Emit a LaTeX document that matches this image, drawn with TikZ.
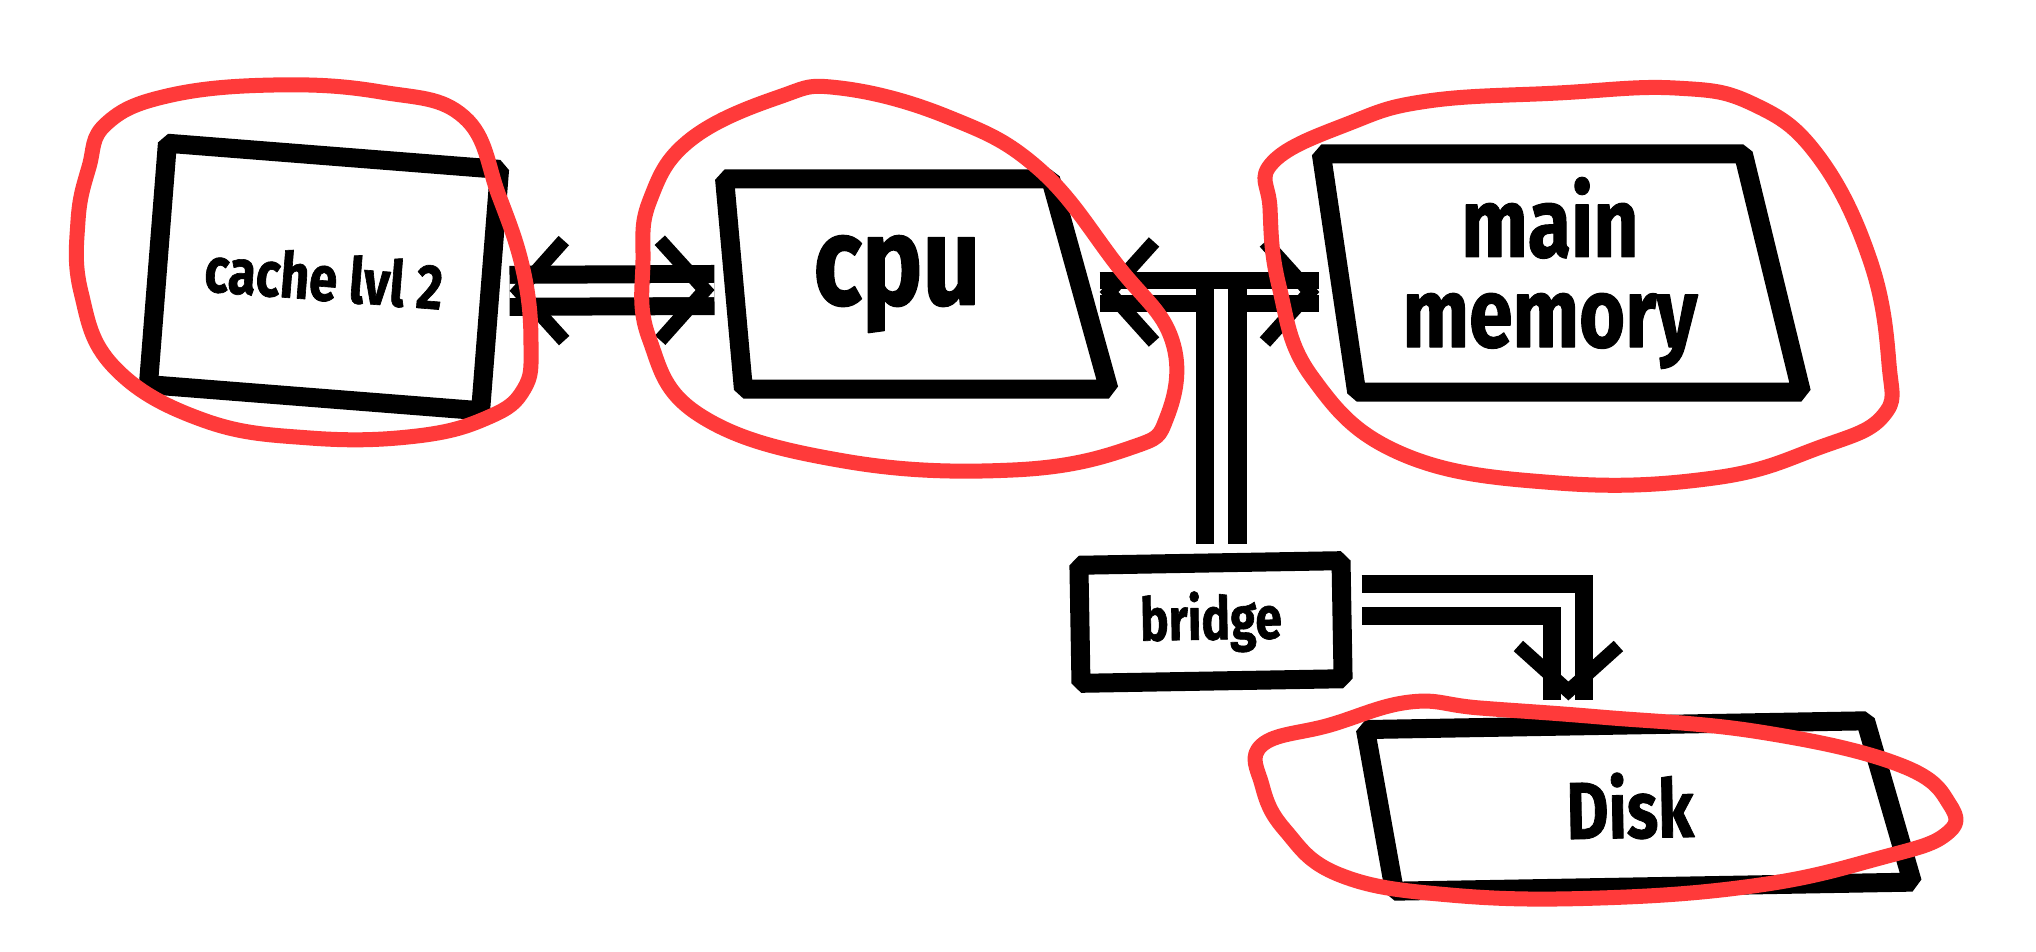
\documentclass[tikz,border=0pt]{standalone}
\usepackage{fontspec}
\newfontfamily\handfont{Fira Sans}[FakeStretch=0.8,FakeBold=1]
\usetikzlibrary{shapes.geometric,arrows.meta,calc,decorations.markings}
\definecolor{marker}{RGB}{255,58,58}

\begin{document}
\begin{tikzpicture}[x=0.01cm,y=-0.01cm,
box/.style={draw,fill=white,line width=0.19cm,line join=bevel,inner sep=0pt,align=center},
trap/.style={box,trapezium,trapezium stretches=true},
pipe/.style={draw,double=white,line width=0.18cm,double distance=0.14cm},
bus/.style={pipe,line width=0.17cm,double distance=0.06cm},
barb/.tip={Straight Barb[length=0.45cm,width=1cm]},
head end/.style={postaction={decorate,decoration={markings,
  mark=at position 1 with {\pgfsetinnerlinewidth{0pt}\pgfsetlinewidth{0.14cm}\arrow{barb}}}}},
head start/.style={postaction={decorate,decoration={markings,
  mark=at position 0 with {\pgfsetinnerlinewidth{0pt}\pgfsetlinewidth{0.14cm}\arrowreversed{barb}}}}},
hilite/.style={draw=marker,line width=0.15cm,line cap=round,line join=round}]
\useasboundingbox (0,0) rectangle (2036,952);

\node[box,rotate=-4.5,minimum width=3.33cm,minimum height=2.42cm,
  font=\handfont\bfseries\fontsize{18}{20}\selectfont] (cache) at (324,277) {cache lvl 2};
\node[trap,trapezium left angle=96,trapezium right angle=72,
  minimum width=3.85cm,minimum height=2.1cm,
  font=\handfont\bfseries\fontsize{36}{40}\selectfont] (cpu) at (897,284) {cpu};
\node[trap,trapezium left angle=98,trapezium right angle=77,
  minimum width=4.8cm,minimum height=2.38cm,
  font=\handfont\bfseries\fontsize{28}{25.6}\selectfont] (mem) at (1550,273) {main\\memory};
\node[box,rotate=1,minimum width=2.62cm,minimum height=1.18cm,
  font=\handfont\bfseries\fontsize{17}{20}\selectfont] (bridge) at (1211,622) {bridge};
\node[trap,rotate=1,trapezium left angle=96,trapezium right angle=80,
  minimum width=5.45cm,minimum height=1.62cm,
  font=\handfont\bfseries\fontsize{23}{26}\selectfont] (disk) at (1630,806) {Disk};

\coordinate (tap) at ($(cpu.east)!0.55!(mem.west)+(0,11)$);

\draw [pipe,head start,head end] ([xshift=0.1cm]cache.east) -- ([xshift=-0.1cm,yshift=-0.06cm]cpu.west);
\draw [bus,head start,head end] ([xshift=0.1cm,yshift=-0.08cm]cpu.east) -- ([xshift=-0.1cm,yshift=-0.08cm]cpu.east -| mem.west);
\draw [pipe,shorten >=0.095cm] (tap) -- (tap |- bridge.north);
\draw [pipe,head end] ([xshift=0.1cm,yshift=0.2cm]bridge.east) -| ([xshift=-0.6cm,yshift=0.15cm]disk.north);

\draw [hilite] plot[smooth cycle,tension=.7] coordinates {(106,124) (167,96) (274,85) (381,92) (464,117) (499,196) (524,274) (531,346) (524,389) (489,417) (417,436) (310,438) (203,420) (114,367) (81,292) (78,221) (89,167)};
\draw [hilite] plot[smooth cycle,tension=.7] coordinates {(650,200) (690,140) (779,97) (840,88) (948,117) (1039,169) (1117,265) (1172,340) (1167,417) (1130,448) (1013,470) (844,461) (701,416) (649,338) (643,260)};
\draw [hilite] plot[smooth cycle,tension=.7] coordinates {(1273,162) (1350,123) (1428,101) (1558,93) (1675,88) (1753,104) (1818,156) (1870,260) (1889,364) (1883,416) (1818,448) (1714,478) (1558,483) (1402,454) (1312,377) (1279,286) (1270,208)};
\draw [hilite] plot[smooth cycle,tension=.7] coordinates {(1262,745) (1330,725) (1410,702) (1480,708) (1600,717) (1760,732) (1900,765) (1950,805) (1945,835) (1880,858) (1760,885) (1600,898) (1450,895) (1340,875) (1285,830) (1262,785)};

\end{tikzpicture}
\end{document}
